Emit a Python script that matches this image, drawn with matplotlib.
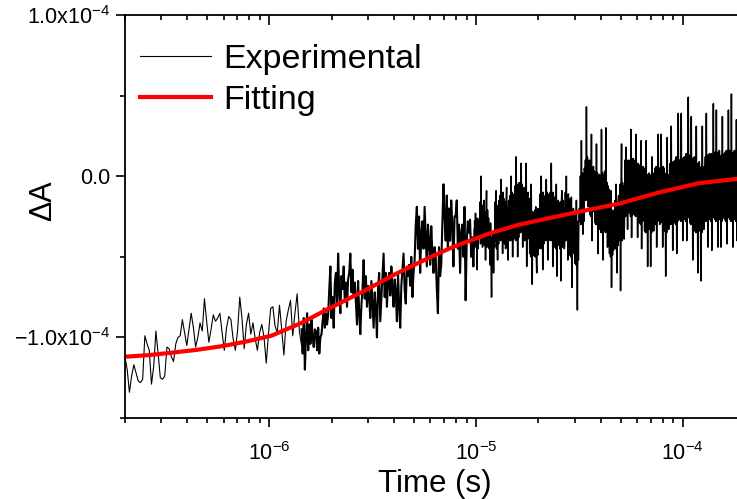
import numpy as np
import matplotlib
matplotlib.use("Agg")
import matplotlib.pyplot as plt

plt.rcParams['font.family'] = ['Liberation Sans', 'DejaVu Sans']
plt.rcParams['mathtext.fontset'] = 'custom'
plt.rcParams['mathtext.rm'] = 'Liberation Sans'

# time segments of the experimental trace (s)
seg_edges = [2.0e-7, 1.43e-6, 9.82e-6, 4.18e-5, 1.88e-4]

# experimental dA values per segment, in units of 1e-6
exp_a = [-112, -120, -134, -124, -117, -122, -127, -128, -126, -99, -104, -108, -129, -118,
         -96, -110, -125, -126, -124, -106, -107, -112, -115, -104, -100, -99, -89, -97, -105,
         -95, -85, -94, -106, -100, -91, -96, -76, -90, -103, -95, -86, -90, -88, -85, -97,
         -108, -94, -87, -89, -101, -108, -96, -75, -88, -107, -92, -85, -98, -91, -101, -108,
         -97, -92, -100, -116, -98, -82, -81, -93, -97, -80, -95, -111, -90, -83, -77, -99,
         -85, -73, -96, -105]
exp_b = [-95, -110, -88, -120, -100, -85, -108,
         -92, -104, -89, -100, -106, -95,
         -96, -108, -94, -110, -100, -98,
         -90, -82, -94, -85, -92, -86,
         -70, -56, -88, -75, -94, -66,
         -60, -80, -48, -72, -85, -62,
         -70, -56, -78, -66, -81, -64,
         -60, -48, -72, -58, -75, -66,
         -78, -92, -65, -85, -98, -80,
         -70, -52, -76, -62, -81, -68,
         -75, -88, -65, -80, -94, -72,
         -82, -100, -70, -60, -90, -76,
         -62, -48, -75, -60, -81, -66,
         -60, -74, -56, -70, -81, -64,
         -72, -90, -60, -80, -94, -68,
         -58, -48, -70, -79, -56, -62,
         -55, -68, -50, -75, -60, -52,
         -30, -19, -45, -25, -60, -35,
         -28, -45, -19, -38, -56, -30,
         -40, -55, -31, -48, -60, -44,
         -50, -70, -85, -44, -62, -55,
         -30, -5, -25, -40, -12, -46,
         -20, -40, -15, -30, -56, -25,
         -25, -15, -45, -30, -60, -35,
         -30, -50, -19, -77, -40, -28,
         -35, -27, -50, -38, -56, -33]
exp_c = [-28, -44, -23, -40, -30, -58, -26, -45, -33, -27,
         -38, -16, -42, 0, -35, -18, -44, -20, -39, -15,
         -43, -22, -52, -25, -9, -44, -21, -40, -26, -45,
         -36, -55, -29, -50, -75, -38, -54, -35, -60, -40,
         -44, -16, -40, -9, -45, -20, -52, -18, -42, -15,
         -38, -12, -40, -2, -36, -15, -48, -10, -39, -14,
         -42, -16, -45, -18, -7, -44, -20, -52, -15, -40,
         -38, -12, -40, 0, -35, -10, -50, -14, -39, -11,
         -38, -6, -40, 12, -35, -5, -50, -8, -38, -4,
         -33, -6, -35, 8, -30, -5, -44, -10, -34, -7,
         -40, -11, -38, 8, -56, -12, -39, -10, -35, -14,
         -48, -20, -50, -5, -45, -67, -22, -49, -25, -46,
         -21, -50, -19, -48, -60, -24, -49, -20, -45, -22,
         -44, -11, -45, 0, -40, -12, -58, -10, -42, -15,
         -39, -12, -40, -2, -38, -10, -52, -14, -40, -11,
         -38, -10, -40, 8, -36, -12, -56, -10, -39, -13,
         -44, -16, -45, -5, -62, -18, -43, -15, -40, -17,
         -45, -16, -65, -18, -9, -44, -15, -42, -20, -45,
         -38, -10, -40, 0, -36, -12, -52, -11, -39, -14,
         -49, -20, -50, -13, -69, -22, -48, -20, -45, -24,
         -54, -26, -55, -15, -50, -83, -28, -52, -25, -20,
         -28, 0, -30, 22, -25, 2, -36, 0, -28, 5,
         -14, 10, -15, 43, -10, 12, -19, 8, -12, 10,
         -24, 5, -25, 26, -40, 4, -22, 6, -20, 3,
         -29, 0, -30, 20, -25, 2, -48, 0, -28, 1,
         -33, 0, -35, 29, -30, 2, -52, 0, -34, 3]
exp_d = [-33, -5, -35, 30, -30, -4, -44, -6, -34, -8,
         -48, -20, -50, -9, -69, -22, -49, -21, -46, -25,
         -44, -15, -45, -5, -40, -60, -16, -43, -12, -40,
         -38, -5, -71, -8, 20, -40, -4, -36, -6, -39,
         -24, 10, -25, 18, -20, 8, -33, 10, -22, 9,
         -23, 10, -25, 29, -38, 9, -24, 11, -20, 10,
         -24, 8, -25, 26, -20, 6, -38, 8, -23, 7,
         -29, 5, -30, 22, -45, 4, -28, 6, -26, 5,
         -34, 0, -35, 22, -30, 1, -56, 0, -33, 2,
         -33, 0, -56, 1, -35, 12, -30, 0, -34, 2,
         -29, 5, -30, 6, -44, 4, -28, 26, -27, 5,
         -30, 5, -29, 26, -26, 4, -44, 6, -30, 5,
         -34, 0, -62, 2, -35, 24, -30, 1, -33, 0,
         -29, 8, -30, 31, -27, 7, -46, 9, -28, 8,
         -29, 10, -30, 12, -48, 9, -28, 39, -26, 10,
         -27, 10, -28, 39, -25, 11, -40, 10, -26, 12,
         -27, 12, -28, 14, -40, 12, -26, 49, -25, 13,
         -29, 10, -30, 37, -27, 11, -52, 10, -28, 12,
         -34, 8, -35, 31, -30, 6, -60, 8, -33, 9,
         -34, 5, -65, 6, -35, 31, -30, 4, -33, 6,
         -27, 12, -28, 39, -25, 13, -44, 12, -26, 14,
         -27, 12, -28, 14, -46, 12, -26, 45, -25, 13,
         -27, 15, -28, 41, -25, 14, -44, 15, -26, 16,
         -27, 12, -44, 13, -28, 37, -25, 12, -26, 14,
         -27, 15, -28, 16, -42, 15, -26, 41, -25, 16,
         -27, 15, -28, 51, -25, 14, -44, 15, -26, 16,
         -27, 15, -28, 35, -40, 14, -26, 15, -25, 16]

# fitting curve
fit_t = [2.0e-7, 2.6e-7, 3.36e-7, 4.4e-7, 5.86e-7, 7.7e-7, 1.02e-6, 1.43e-6, 1.91e-6,
         2.79e-6, 4.03e-6, 5.03e-6, 6.29e-6, 7.85e-6, 9.82e-6, 1.16e-5, 1.62e-5, 2.26e-5,
         3.16e-5, 4.93e-5, 7.71e-5, 1.20e-4, 1.88e-4]
fit_dA = [-112, -111, -109.5, -107.8, -105.5, -102.6, -99, -91, -82.5, -72, -61, -55,
          -49, -43.5, -39, -35.5, -30, -26, -22, -17, -10, -4.3, -1.5]

y_ticks = [-1e-4, 0, 1e-4]
y_labels = [r'$\mathregular{-1.0x10^{-4}}$', '0.0', r'$\mathregular{1.0x10^{-4}}$']

segs = [exp_a, exp_b, exp_c, exp_d]
seg_lw = [0.8, 1.5, 1.1, 1.1]

fig = plt.figure(figsize=(7.37, 4.99), dpi=100)
ax = fig.add_axes([125 / 737, 81 / 499, 620 / 737, 403 / 499])

for i, vals in enumerate(segs):
    t = np.geomspace(seg_edges[i], seg_edges[i + 1], len(vals))
    ax.plot(t, np.array(vals, dtype=float) * 1e-6, color='black', lw=seg_lw[i],
            label='Experimental' if i == 0 else None)
ax.plot(fit_t, np.array(fit_dA) * 1e-6, color='red', lw=3.0, label='Fitting')

ax.set_xscale('log')
ax.set_xlim(2e-7, 2e-4)
ax.set_ylim(-1.5e-4, 1e-4)
ax.set_yticks(y_ticks)
ax.set_yticklabels(y_labels)
ax.set_yticks([-1.5e-4, -0.5e-4, 0.5e-4], minor=True)

ax.spines['right'].set_visible(False)
ax.spines['top'].set_visible(False)
for sp in ax.spines.values():
    sp.set_linewidth(1.3)

ax.tick_params(axis='both', which='major', labelsize=15.5, length=6.5, width=1.2, direction='out')
ax.tick_params(axis='both', which='minor', length=3.5, width=1.2, direction='out')
ax.tick_params(axis='x', which='major', pad=11)
ax.tick_params(axis='y', which='major', pad=4)

top = ax.secondary_xaxis('top')
top.spines['top'].set_linewidth(1.3)
top.tick_params(axis='x', which='major', direction='in', length=7, width=1.2, labeltop=False)
top.tick_params(axis='x', which='minor', direction='in', length=3.5, width=1.2)

ax.set_xlabel('Time (s)', fontsize=22.5, labelpad=3)
ax.set_ylabel('ΔA', fontsize=22)
ax.yaxis.set_label_coords(-0.108, 0.54)

leg = ax.legend(loc='upper left', bbox_to_anchor=(0.024, 0.928), frameon=False, fontsize=24.5,
                handlelength=2.1, handletextpad=0.36, labelspacing=0.28, borderaxespad=0,
                borderpad=0)
leg.get_lines()[0].set_linewidth(0.8)

fig.savefig('out.png', dpi=100)
